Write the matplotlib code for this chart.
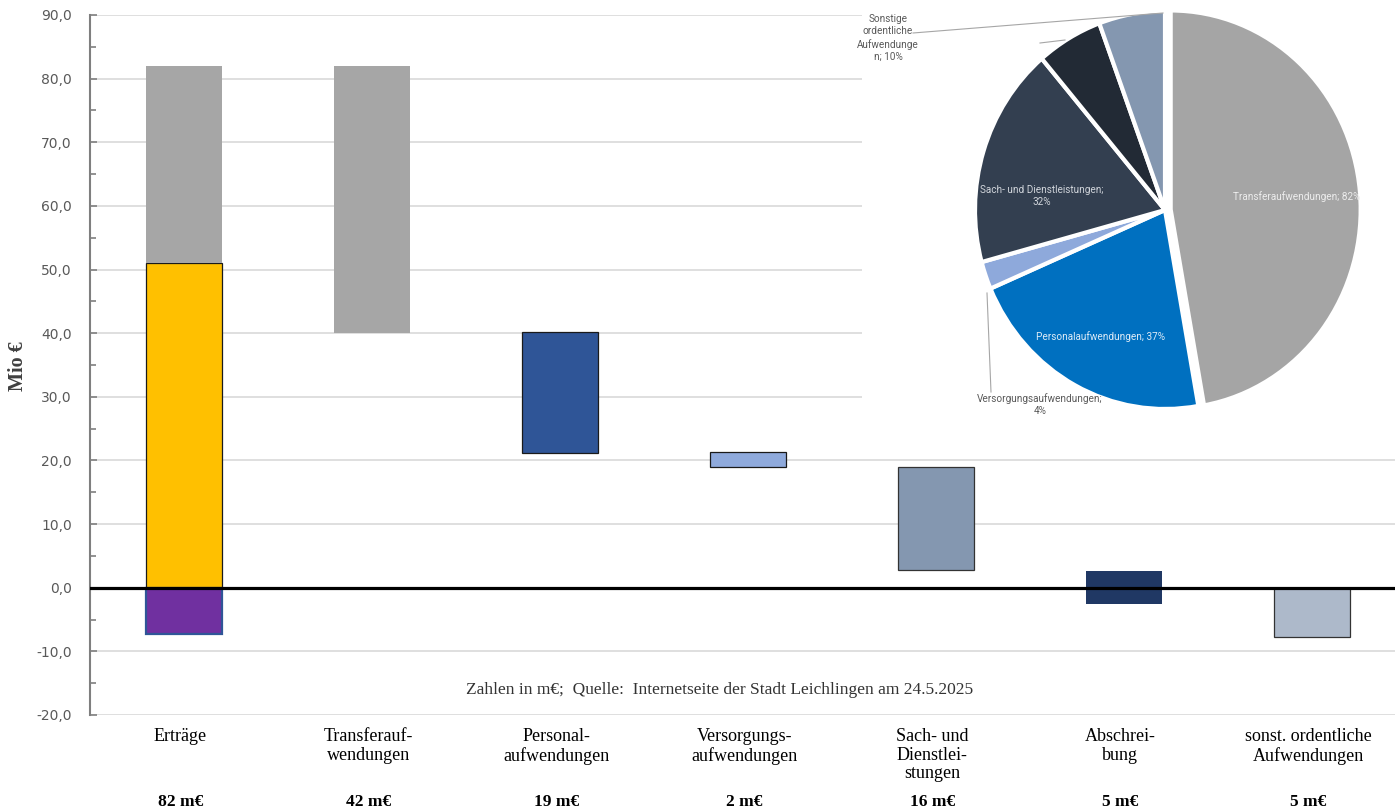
import numpy as np
import matplotlib
matplotlib.use("Agg")
import matplotlib.pyplot as plt

# ---------------- data ----------------
categories = ["Erträge", "Transferauf-\nwendungen", "Personal-\naufwendungen",
              "Versorgungs-\naufwendungen", "Sach- und\nDienstlei-\nstungen",
              "Abschrei-\nbung", "sonst. ordentliche\nAufwendungen"]
amount_labels = ["82 m€", "42 m€", "19 m€", "2 m€", "16 m€", "5 m€", "5 m€"]

ertraege_main = 51.0      # yellow part
ertraege_total = 82.0     # grey part reaches up to here
ertraege_neg = -7.3       # purple part below zero

expense_tops = [82.0, 40.2, 21.3, 19.0, 2.6, 0.0]
expense_bottoms = [40.0, 21.2, 19.0, 2.8, -2.6, -7.7]

yticks = [-20, -10, 0, 10, 20, 30, 40, 50, 60, 70, 80, 90]

pie_values = [42, 19, 2, 16, 5, 5]
pie_labels = ["Transferaufwendungen; 82%", "Personalaufwendungen; 37%",
              "Versorgungsaufwendungen;\n4%", "Sach- und Dienstleistungen;\n32%",
              "", "Sonstige\nordentliche\nAufwendunge\nn; 10%"]
footnote = "Zahlen in m€;  Quelle:  Internetseite der Stadt Leichlingen am 24.5.2025"

# ---------------- styles ----------------
W, H = 1395, 808
expense_colors = ["#A6A6A6", "#2F5597", "#8FAADC", "#8497B0", "#203864", "#ADB9CA"]
expense_edges = ["none", "#1a1a1a", "#1a1a1a", "#333333", "none", "#333333"]
pie_colors = ["#A5A5A5", "#0070C0", "#8EA9DB", "#333F50", "#222A35", "#8497B0"]
serif = ["Liberation Serif", "DejaVu Serif"]
narrow = ["Liberation Sans Narrow", "Roboto", "DejaVu Sans"]

fig = plt.figure(figsize=(W / 100, H / 100), dpi=100)
fig.patch.set_facecolor("white")

ax = fig.add_axes([90 / W, (H - 715) / H, (W - 90) / W, 700 / H])
step = 188.0
ax.set_xlim(-0.5, -0.5 + (W - 90) / step)
ax.set_ylim(-20, 90)

bw = 0.40
x = np.arange(len(categories))
# Erträge stacked
ax.bar(x[0], ertraege_main, width=bw, color="#FFC000", edgecolor="#1a1a1a", linewidth=0.9, zorder=3)
ax.bar(x[0], ertraege_total - ertraege_main, bottom=ertraege_main, width=bw,
       color="#A6A6A6", linewidth=0, zorder=3)
ax.bar(x[0], ertraege_neg, width=bw, color="#7030A0", edgecolor="#2F5597", linewidth=1.6, zorder=3)
# expenses (floating)
tops = np.array(expense_tops)
bots = np.array(expense_bottoms)
for xi, b, t, c, e in zip(x[1:], bots, tops, expense_colors, expense_edges):
    ax.bar(xi, t - b, bottom=b, width=bw, color=c,
           edgecolor=e, linewidth=0.9 if e != "none" else 0, zorder=3)

ax.axhline(0, color="black", linewidth=2.3, zorder=5)

# axes styling
for s in ["top", "right", "bottom"]:
    ax.spines[s].set_visible(False)
ax.spines["left"].set_color("#7F7F7F")
ax.spines["left"].set_linewidth(1.5)
ax.set_yticks(yticks)
ax.set_yticklabels([f"{v:.1f}".replace(".", ",") for v in yticks])
ax.set_yticks(np.arange(-15, 90, 10), minor=True)
ax.tick_params(axis="y", which="major", direction="in", length=5, width=1.2,
               color="#7F7F7F", labelsize=10, labelcolor="#595959", pad=13)
ax.tick_params(axis="y", which="minor", direction="in", length=4, width=1.2, color="#7F7F7F")
ax.set_xticks([])
ax.yaxis.grid(True, which="major", color="#D9D9D9", linewidth=1.2)
ax.set_axisbelow(True)

# category labels & amounts
for i, (cat, amt) in enumerate(zip(categories, amount_labels)):
    ax.annotate(cat, xy=(x[i] - 0.02, H - 728), xycoords=("data", "figure pixels"),
                ha="center", va="top", fontsize=13, family=serif, linespacing=1.12,
                color="black", annotation_clip=False)
    ax.annotate(amt, xy=(x[i] - 0.02, H - 802), xycoords=("data", "figure pixels"),
                ha="center", va="center", fontsize=12.5, family=serif, fontweight="bold",
                color="black", annotation_clip=False)

fig.text(18 / W, (H - 366) / H, "Mio €", rotation=90, ha="center", va="center",
         fontsize=14.5, family=serif, fontweight="bold", color="#404040")
fig.text(720 / W, (H - 690) / H, footnote, ha="center", va="center",
         fontsize=12.5, family=serif, color="#333333")

# ---------------- pie inset ----------------
ax2 = fig.add_axes([862 / W, (H - 430) / H, (W - 862) / W, 430 / H])
ax2.set_facecolor("white")
cx, cy, rx, ry = 1165, 210, 190, 199   # pixel layout of pie
explode = [0.03, 0, 0, 0, 0, 0]
wedges, _ = ax2.pie(pie_values, colors=pie_colors, startangle=90, counterclock=False,
                    explode=explode, radius=1.0, frame=True,
                    wedgeprops=dict(edgecolor="white", linewidth=3))
ax2.set_aspect("auto")
ax2.set_xlim((862 - cx) / rx, (W - cx) / rx)
ax2.set_ylim(-(430 - cy) / ry, cy / ry)
ax2.set_xticks([]); ax2.set_yticks([])
for s in ax2.spines.values():
    s.set_visible(False)

def px(xp, yp):
    return (xp - cx) / rx, (cy - yp) / ry

label_pos = [px(1297, 197), px(1100, 337), px(1040, 405), px(1042, 196), None, px(888, 38)]
label_col = ["#EDEDED", "#DDEBF7", "#595959", "#D0D4DA", None, "#595959"]
for lab, pos, col in zip(pie_labels, label_pos, label_col):
    if pos is None or not lab:
        continue
    ax2.text(pos[0], pos[1], lab, ha="center", va="center", fontsize=7.2,
             family=narrow, color=col, linespacing=1.25)

# leader lines
for (a, b) in [((987, 293), (991, 392)), ((913, 33), (1163, 13)), ((1040, 43), (1065, 40))]:
    p1, p2 = px(*a), px(*b)
    ax2.plot([p1[0], p2[0]], [p1[1], p2[1]], color="#A6A6A6", linewidth=0.8)

fig.savefig("out.png", dpi=100, facecolor="white")
